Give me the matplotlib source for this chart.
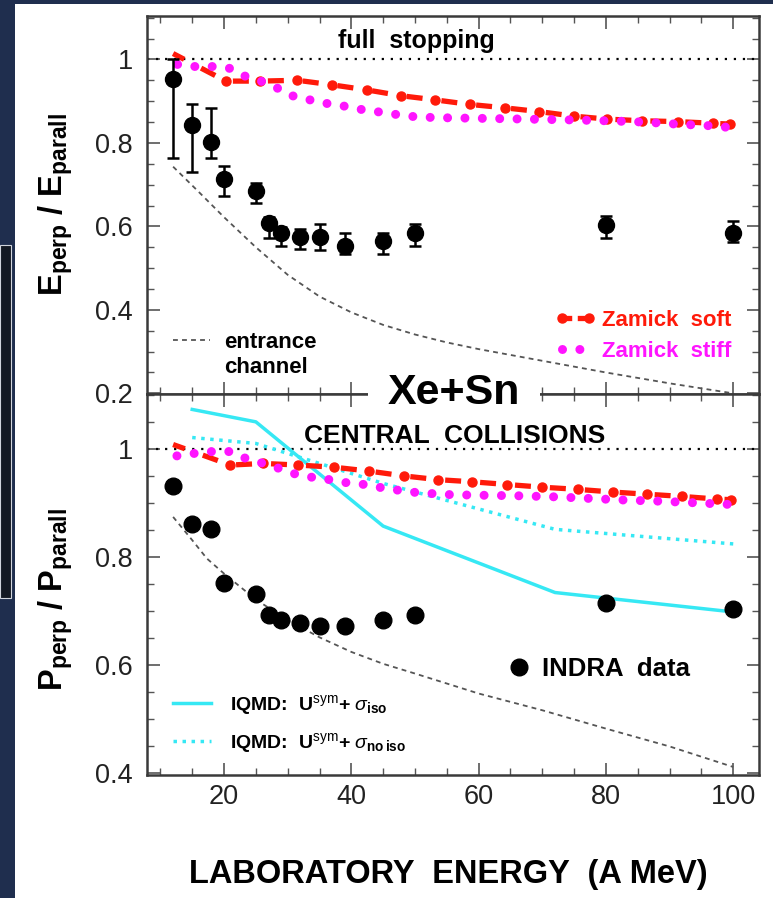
import matplotlib
matplotlib.use("Agg")
import matplotlib.pyplot as plt
from matplotlib.lines import Line2D
from matplotlib.patches import Rectangle
from matplotlib.ticker import MultipleLocator, FormatStrFormatter

plt.rcParams['font.family'] = ['Liberation Sans', 'DejaVu Sans']
plt.rcParams['mathtext.fontset'] = 'custom'
plt.rcParams['mathtext.rm'] = 'Liberation Sans'
plt.rcParams['mathtext.bf'] = 'Liberation Sans:bold'
plt.rcParams['mathtext.it'] = 'Liberation Sans:italic'
plt.rcParams['lines.scale_dashes'] = False

# ---- INDRA data (both panels share energies)
indra_e = [12, 15, 18, 20, 25, 27, 29, 32, 35, 39, 45, 50, 80, 100]
e_ratio = [0.952, 0.843, 0.803, 0.713, 0.685, 0.607, 0.583, 0.574, 0.575, 0.554, 0.564, 0.583, 0.603, 0.583]
e_err_lo = [0.189, 0.112, 0.040, 0.040, 0.030, 0.034, 0.030, 0.029, 0.032, 0.020, 0.030, 0.030, 0.030, 0.020]
e_err_hi = [0.048, 0.049, 0.080, 0.032, 0.018, 0.016, 0.016, 0.019, 0.030, 0.029, 0.019, 0.022, 0.022, 0.031]
p_ratio = [0.932, 0.862, 0.852, 0.753, 0.733, 0.693, 0.684, 0.679, 0.673, 0.673, 0.685, 0.693, 0.715, 0.704]

# ---- Zamick soft (dash-dot with dots)
soft_top_x = [12, 20.3, 25.7, 31.5, 37.0, 42.4, 47.8, 53.2, 58.7, 64.1, 69.5, 75.0, 80.2, 85.7, 91.3, 96.8, 99.5]
soft_top_y = [1.014, 0.948, 0.948, 0.950, 0.939, 0.927, 0.913, 0.903, 0.892, 0.884, 0.875, 0.864, 0.857, 0.853, 0.851, 0.847, 0.845]
soft_bot_x = [12, 21.0, 26.2, 31.7, 37.3, 42.7, 48.2, 53.6, 59.0, 64.5, 70.0, 75.6, 81.1, 86.5, 91.9, 97.5, 99.6]
soft_bot_y = [1.009, 0.971, 0.974, 0.971, 0.967, 0.960, 0.951, 0.944, 0.940, 0.935, 0.930, 0.926, 0.921, 0.917, 0.913, 0.908, 0.907]

# ---- Zamick stiff (big dots)
stiff_top_x = [12.7, 15.4, 18.1, 20.8, 23.3, 25.8, 28.4, 30.9, 33.5, 36.3, 38.9, 41.6, 44.4, 47.1, 49.8, 52.5, 55.2, 63.6, 74.6, 80.1, 85.7, 91.1, 96.5, 99.3]
stiff_top_y = [0.988, 0.983, 0.983, 0.979, 0.960, 0.948, 0.931, 0.912, 0.903, 0.894, 0.888, 0.880, 0.874, 0.868, 0.863, 0.861, 0.860, 0.858, 0.855, 0.853, 0.850, 0.845, 0.841, 0.837]
stiff_bot_x = [12.6, 15.6, 18.1, 20.8, 23.5, 26.2, 28.6, 31.3, 34.0, 36.6, 39.4, 42.1, 44.8, 47.6, 50.3, 53.0, 55.9, 61.2, 66.8, 72.4, 77.8, 83.3, 88.7, 94.2, 99.6]
stiff_bot_y = [0.988, 0.993, 0.996, 0.996, 0.983, 0.974, 0.965, 0.954, 0.948, 0.944, 0.938, 0.935, 0.929, 0.924, 0.920, 0.918, 0.916, 0.915, 0.914, 0.912, 0.909, 0.906, 0.904, 0.901, 0.898]

# ---- IQMD (bottom panel only)
iqmd_x = [15, 25, 45, 72, 100]
iqmd_iso = [1.074, 1.051, 0.858, 0.735, 0.699]
iqmd_noiso = [1.022, 1.011, 0.937, 0.852, 0.825]

# ---- entrance channel
ent_top_x = [12, 16, 20, 25, 30, 35, 40, 45, 50, 55, 60, 70, 80, 90, 100]
ent_top_y = [0.743, 0.683, 0.622, 0.550, 0.484, 0.432, 0.394, 0.364, 0.341, 0.322, 0.306, 0.278, 0.250, 0.224, 0.200]
ent_bot_x = [12, 15, 17.3, 20, 25, 30, 35, 40, 45, 50, 60, 70, 80, 90, 100]
ent_bot_y = [0.875, 0.832, 0.798, 0.770, 0.722, 0.684, 0.652, 0.625, 0.603, 0.585, 0.548, 0.517, 0.483, 0.450, 0.412]

RED = '#ff1a0a'
MAG = '#ff14ff'
CYAN = '#36e8f4'
GRAY = '#555555'

fig = plt.figure(figsize=(7.73, 8.98), dpi=100)
fig.patch.set_facecolor('#1f2e4e')
fig.patches.append(Rectangle((15 / 773, 0), 758 / 773, 1 - 4 / 898, transform=fig.transFigure,
                             facecolor='white', edgecolor='none', zorder=-10))
fig.patches.append(Rectangle((0, 1 - 598 / 898), 11 / 773, 353 / 898, transform=fig.transFigure,
                             facecolor='#131923', edgecolor='#d0d4dc', lw=0.8, zorder=-9))

ax1 = fig.add_axes([0.1906, 0.5615, 0.7917, 0.4207])
ax2 = fig.add_axes([0.1906, 0.1375, 0.7917, 0.4240])


def soft_line(ax, x, y):
    ax.plot(x, y, color=RED, lw=3.8, ls=(2.5, (11.5, 13.7)), marker='o', ms=6.5,
            markevery=slice(1, None), mec=RED, mfc=RED, zorder=3)


def stiff_line(ax, x, y):
    ax.plot(x, y, color=MAG, lw=6.5, ls=(0, (0.01, 12.5)), dash_capstyle='round', zorder=3)


for ax in (ax1, ax2):
    ax.set_xlim(7.95, 104.1)
    ax.axhline(1.0, color='k', lw=1.6, ls=(0, (1.6, 4.9)), zorder=2)
    ax.xaxis.set_major_locator(MultipleLocator(20))
    ax.xaxis.set_minor_locator(MultipleLocator(5))
    ax.yaxis.set_major_locator(MultipleLocator(0.2))
    ax.yaxis.set_minor_locator(MultipleLocator(0.05))
    ax.yaxis.set_major_formatter(FormatStrFormatter('%g'))
    ax.tick_params(which='both', direction='in', top=True, right=True, color='#555555',
                   labelsize=19.5, labelcolor='#222222')
    ax.tick_params(which='major', length=9, width=1.2)
    ax.tick_params(which='minor', length=4.7, width=1.0)
    ax.tick_params(axis='y', pad=10.5)
    ax.tick_params(axis='x', pad=7)
    for s in ax.spines.values():
        s.set_color('#3a3a3a')
        s.set_linewidth(1.8)

# ---------------- top panel
ax1.set_ylim(0.199, 1.104)
ax1.tick_params(labelbottom=False)
ax1.plot(ent_top_x, ent_top_y, color=GRAY, lw=1.3, ls=(0, (3.5, 3)), zorder=2)
soft_line(ax1, soft_top_x, soft_top_y)
stiff_line(ax1, stiff_top_x, stiff_top_y)
ax1.errorbar(indra_e, e_ratio, yerr=[e_err_lo, e_err_hi], fmt='o', color='k', ms=11.5,
             elinewidth=1.8, capsize=4.5, capthick=1.8, zorder=5)
ax1.text(0.439, 0.914, 'full  stopping', transform=ax1.transAxes, ha='center', va='baseline',
         fontsize=18, fontweight='bold')
ax1.set_ylabel('E$_{\\bf perp}$ / E$_{\\bf parall}$', fontsize=23.5, fontweight='bold')
ax1.yaxis.set_label_coords(-0.118, 0.5)

h_ent = [Line2D([], [], color=GRAY, lw=1.3, ls=(0, (3.5, 3))), Line2D([], [], ls='none')]
leg1 = ax1.legend(h_ent, ['entrance', 'channel'], loc='upper left', bbox_to_anchor=(0.042, 0.164),
                  frameon=False, borderpad=0, borderaxespad=0, labelspacing=0.2,
                  handlelength=1.66, handletextpad=0.62, prop={'weight': 'bold', 'size': 16})
ax1.add_artist(leg1)
h_zam = [Line2D([], [], color=RED, lw=3.8, ls=(0, (7, 4)), marker='o', ms=6.5, markevery=[1]),
         Line2D([], [], color=MAG, lw=6.5, ls=(0, (0.01, 12.5)), dash_capstyle='round')]
ax1.legend(h_zam, ['Zamick  soft', 'Zamick  stiff'], loc='upper left',
           bbox_to_anchor=(0.667, 0.222), frameon=False, borderpad=0, borderaxespad=0,
           labelspacing=0.45, handlelength=1.8, handletextpad=0.3, numpoints=2,
           prop={'weight': 'bold', 'size': 16}, labelcolor='linecolor')

# ---------------- bottom panel
ax2.set_ylim(0.398, 1.103)
ax2.plot(ent_bot_x, ent_bot_y, color=GRAY, lw=1.3, ls=(0, (3.5, 3)), zorder=2)
ax2.plot(iqmd_x, iqmd_iso, color=CYAN, lw=2.5, zorder=3)
ax2.plot(iqmd_x, iqmd_noiso, color=CYAN, lw=2.5, ls=(0, (2.5, 4)), zorder=3)
soft_line(ax2, soft_bot_x, soft_bot_y)
stiff_line(ax2, stiff_bot_x, stiff_bot_y)
ax2.plot(indra_e, p_ratio, 'o', color='k', ms=12, zorder=5)
ax2.text(0.5028, 0.870, 'CENTRAL  COLLISIONS', transform=ax2.transAxes, ha='center',
         va='baseline', fontsize=19, fontweight='bold')
ax2.set_ylabel('P$_{\\bf perp}$ / P$_{\\bf parall}$', fontsize=23.5, fontweight='bold')
ax2.yaxis.set_label_coords(-0.118, 0.46)
ax2.set_xlabel('LABORATORY  ENERGY  (A MeV)', fontsize=23.5, fontweight='bold', va='baseline')
ax2.xaxis.set_label_coords(0.492, -0.285)

leg3 = ax2.legend([Line2D([], [], ls='none', marker='o', color='k', ms=12)], ['INDRA  data'],
                  loc='center left', bbox_to_anchor=(0.59, 0.277), frameon=False, borderpad=0,
                  borderaxespad=0, handlelength=0.8, handletextpad=0.5,
                  prop={'weight': 'bold', 'size': 18.5})
ax2.add_artist(leg3)
h_iq = [Line2D([], [], color=CYAN, lw=2.5), Line2D([], [], color=CYAN, lw=2.5, ls=(0, (2.5, 4)))]
ax2.legend(h_iq, ['IQMD:  U$^{\\rm sym}$+ $\\sigma_{\\bf iso}$',
                  'IQMD:  U$^{\\rm sym}$+ $\\sigma_{\\bf no\\,iso}$'],
           loc='upper left', bbox_to_anchor=(0.042, 0.215), frameon=False, borderpad=0,
           borderaxespad=0, labelspacing=0.75, handlelength=1.95, handletextpad=1.0,
           prop={'weight': 'bold', 'size': 14})

# big reaction label sitting on the panel boundary
fig.patches.append(Rectangle((368 / 773, 1 - 410 / 898), 172 / 773, 30 / 898, transform=fig.transFigure,
                             facecolor='white', edgecolor='none', zorder=8))
fig.text(454 / 773, 1 - 393 / 898, 'Xe+Sn', ha='center', va='center', fontsize=31,
         fontweight='bold', zorder=9)

fig.savefig('out.png', dpi=100, facecolor=fig.get_facecolor())
